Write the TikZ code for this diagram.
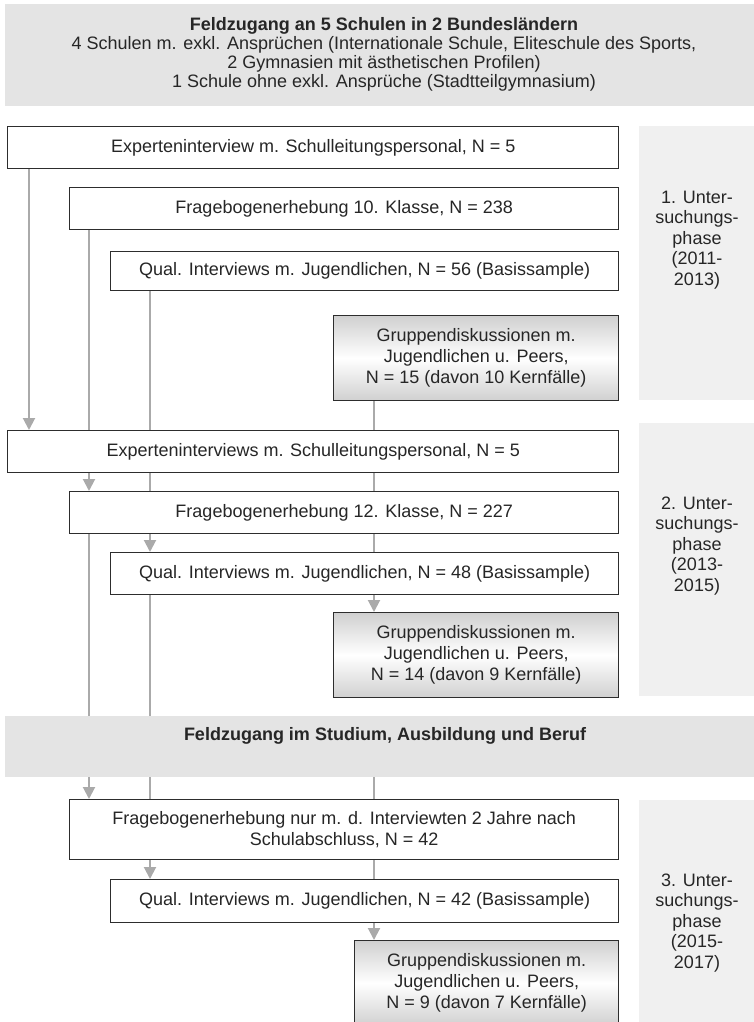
\documentclass[tikz,border=0pt]{standalone}
\usepackage{fontspec}
\setmainfont{Liberation Sans}
\usetikzlibrary{arrows.meta,backgrounds}

\definecolor{bandgray}{RGB}{228,228,228}
\definecolor{phasegray}{RGB}{240,240,240}
\definecolor{linegray}{RGB}{170,170,170}
\definecolor{boxline}{RGB}{45,45,45}
\definecolor{shadegray}{RGB}{208,208,208}

\begin{document}
\begin{tikzpicture}[x=1pt,y=-1pt,
  box/.style={draw=boxline,line width=1.4pt,fill=white,inner sep=0pt,anchor=north west,
    align=center,text=black!85,font=\fontsize{18}{21}\selectfont},
  gbox/.style={box,top color=shadegray,bottom color=shadegray,middle color=white},
  bandtext/.style={align=center,text=black!85,font=\fontsize{18}{19}\selectfont},
  phase/.style={align=center,text=black!85,font=\fontsize{18}{20.5}\selectfont},
  conn/.style={draw=linegray,line width=2pt,-{Triangle[width=12pt,length=12pt]}}]
\useasboundingbox (0,0) rectangle (754,1022);

% Feldzugang und Phasen
\fill[bandgray] (5,4) rectangle (754,106);
\node[bandtext] (feld1) at (384,54) {\textbf{Feldzugang an 5 Schulen in 2 Bundesländern}\\
  4 Schulen m. exkl. Ansprüchen (Internationale Schule, Eliteschule des Sports,\\
  2 Gymnasien mit ästhetischen Profilen)\\
  1 Schule ohne exkl. Ansprüche (Stadtteilgymnasium)};
\fill[bandgray] (5,716) rectangle (754,777);
\node[bandtext] (feld2) at (385,736) {\textbf{Feldzugang im Studium, Ausbildung und Beruf}};
\coordinate (feld2s) at (374,777);

\fill[phasegray] (639,126) rectangle (754,400);
\node[phase] (ph1) at (697,240) {1. Unter-\\suchungs-\\phase\\(2011-\\2013)};
\fill[phasegray] (639,423) rectangle (754,696);
\node[phase] (ph2) at (697,546) {2. Unter-\\suchungs-\\phase\\(2013-\\2015)};
\fill[phasegray] (639,800) rectangle (754,1022);
\node[phase] (ph3) at (697,923) {3. Unter-\\suchungs-\\phase\\(2015-\\2017)};

% 1. Phase
\node[box,minimum width=611,minimum height=42] (ex1) at (7,126) {Experteninterview m. Schulleitungspersonal, N = 5};
\node[box,minimum width=549,minimum height=42] (fb1) at (69,187) {Fragebogenerhebung 10. Klasse, N = 238};
\node[box,minimum width=508,minimum height=39] (qi1) at (110,251) {Qual. Interviews m. Jugendlichen, N = 56 (Basissample)};
\node[gbox,minimum width=285,minimum height=85] (gd1) at (333,315) {Gruppendiskussionen m.\\Jugendlichen u. Peers,\\N = 15 (davon 10 Kernfälle)};

% 2. Phase
\node[box,minimum width=611,minimum height=42] (ex2) at (7,430) {Experteninterviews m. Schulleitungspersonal, N = 5};
\node[box,minimum width=549,minimum height=42] (fb2) at (69,491) {Fragebogenerhebung 12. Klasse, N = 227};
\node[box,minimum width=508,minimum height=42] (qi2) at (110,552) {Qual. Interviews m. Jugendlichen, N = 48 (Basissample)};
\node[gbox,minimum width=285,minimum height=85] (gd2) at (333,612) {Gruppendiskussionen m.\\Jugendlichen u. Peers,\\N = 14 (davon 9 Kernfälle)};

% 3. Phase
\node[box,minimum width=549,minimum height=60] (fb3) at (69,799) {Fragebogenerhebung nur m. d. Interviewten 2 Jahre nach\\Schulabschluss, N = 42};
\node[box,minimum width=508,minimum height=43] (qi3) at (110,879) {Qual. Interviews m. Jugendlichen, N = 42 (Basissample)};
\node[gbox,minimum width=264,minimum height=85] (gd3) at (354,940) {Gruppendiskussionen m.\\Jugendlichen u. Peers,\\N = 9 (davon 7 Kernfälle)};

\coordinate (colA) at (29,0);
\coordinate (colB) at (89,0);
\coordinate (colC) at (150,0);
\coordinate (colD) at (374,0);

\begin{scope}[on background layer]
\draw[conn] (ex1.south -| colA) -- (ex2.north -| colA);
\draw[conn] (fb1.south -| colB) -- (fb2.north -| colB);
\draw[conn] (fb2.south -| colB) -- (fb3.north -| colB);
\draw[conn] (qi1.south -| colC) -- (qi2.north -| colC);
\draw[conn] (qi2.south -| colC) -- (qi3.north -| colC);
\draw[conn] (gd1.south -| colD) -- (gd2.north -| colD);
\draw[conn] (feld2s) -- (gd3.north -| colD);
\end{scope}
\end{tikzpicture}
\end{document}
